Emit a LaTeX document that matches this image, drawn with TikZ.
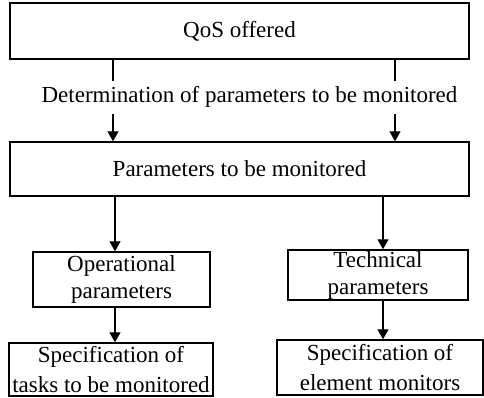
\documentclass[tikz,border=0pt]{standalone}
\usepackage{fontspec}
\setmainfont{Liberation Serif}
\usetikzlibrary{arrows.meta}
\tikzset{
  box/.style={draw, line width=1.5pt, inner sep=0pt, align=center,
    font=\fontsize{23}{27}\selectfont},
  link/.style={line width=1.3pt},
  flow/.style={link, -{Triangle[width=11pt,length=10pt]}}
}
\begin{document}
\begin{tikzpicture}[x=1pt,y=-1pt]
\useasboundingbox (0,0) rectangle (484,397);

% boxes
\node[box, minimum width=459pt, minimum height=56pt] (qos) at (239.5,31) {QoS offered};
\node[box, minimum width=459pt, minimum height=54pt] (par) at (239.5,169) {Parameters to be monitored};
\node[box, minimum width=177pt, minimum height=55pt] (op) at (121.5,279.5) {Operational\\parameters};
\node[box, minimum width=180pt, minimum height=50pt] (tech) at (378,275) {Technical\\parameters};
\node[box, minimum width=204pt, minimum height=53pt, font=\fontsize{23}{30}\selectfont] (specl) at (111,369.5) {Specification of\\tasks to be monitored};
\node[box, minimum width=206pt, minimum height=55pt, font=\fontsize{23}{30}\selectfont] (specr) at (380,367.5) {Specification of\\element monitors};

% label between the two wide boxes
\node[font=\fontsize{23}{27}\selectfont, inner sep=0pt] (det) at (249.5,97) {Determination of parameters to be monitored};

% stubs above and arrows below the label
\coordinate (ul) at (113,81);
\coordinate (ur) at (395,81);
\coordinate (dl) at (113,114);
\coordinate (dr) at (395,114);
\draw[link] (qos.south -| ul) -- (ul);
\draw[link] (qos.south -| ur) -- (ur);
\draw[flow] (dl) -- (par.north -| dl);
\draw[flow] (dr) -- (par.north -| dr);

% lower branches
\coordinate (bl) at (115,0);
\coordinate (br) at (383,0);
\draw[flow] (par.south -| bl) -- (op.north -| bl);
\draw[flow] (par.south -| br) -- (tech.north -| br);
\draw[flow] (op.south -| bl) -- (specl.north -| bl);
\draw[flow] (tech.south -| br) -- (specr.north -| br);
\end{tikzpicture}
\end{document}
